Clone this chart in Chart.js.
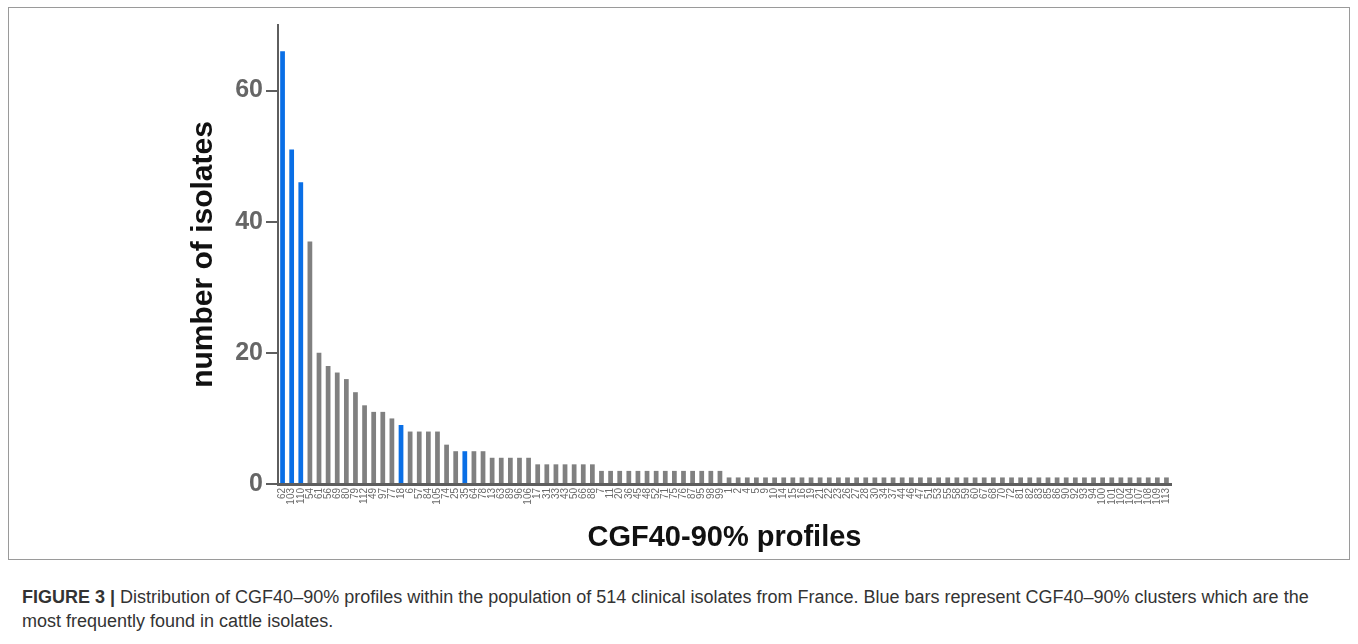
<!DOCTYPE html>
<html>
<head>
<meta charset="utf-8">
<script src="https://cdn.jsdelivr.net/npm/chart.js@4"></script>
<style>
  html, body { margin: 0; padding: 0; background: #fff; }
  body { width: 1358px; height: 644px; position: relative; overflow: hidden; font-family: "Liberation Sans", Arial, sans-serif; }
  #frame { position: absolute; left: 8px; top: 7px; width: 1342px; height: 553px; border: 1px solid #9a9a9a; box-sizing: border-box; }
  #wrap { position: absolute; left: 0; top: 0; width: 1358px; height: 560px; }
  #caption { position: absolute; left: 22px; top: 585px; width: 1330px; font-size: 18px; line-height: 24px; color: #333; white-space: nowrap; }
  #caption b { color: #333; }
</style>
</head>
<body>
<div id="frame"></div>
<div id="wrap"><canvas id="c"></canvas></div>
<div id="caption"><b>FIGURE 3 |</b> Distribution of CGF40–90% profiles within the population of 514 clinical isolates from France. Blue bars represent CGF40–90% clusters which are the<br>most frequently found in cattle isolates.</div>
<script>
// CGF40-90% profile identifiers (x categories)
const profiles = ['62','103','110','54','61','56','69','80','79','112','49','97','77','18','6','57','84','105','74','25','35','64','78',
  '13','63','89','96','106',
  '17','31','33','43','50','66','88',
  '7','11','20','36','45','48','52','71','75','76','87','95','98','99',
  '1','2','4','5','9','10','14','15','16','19','21','22','23','26','27','28','30','34','37','44','46','47','51','53','55','58','59','60',
  '67','68','70','72','81','82','83','85','86','90','92','93','94','100','101','102','104','107','108','109','113'];

// number of isolates per profile
const isolates = [66,51,46,37,20,18,17,16,14,12,11,11,10,9,8,8,8,8,6,5,5,5,5,
  4,4,4,4,4,
  3,3,3,3,3,3,3,
  2,2,2,2,2,2,2,2,2,2,2,2,2,2,
  1,1,1,1,1,1,1,1,1,1,1,1,1,1,1,1,1,1,1,1,1,1,1,1,1,1,1,
  1,1,1,1,1,1,1,1,1,1,1,1,1,1,1,1,1,1,1,1,1,1];

// profiles most frequently found in cattle isolates (blue bars)
const cattleProfiles = ['62','103','110','18','35'];

const yTicks = [0, 20, 40, 60];

const blue = '#0a6fe6';
const grey = '#808080';
const axisCol = '#5e5e5e';

new Chart(document.getElementById('c'), {
  type: 'bar',
  data: {
    labels: profiles,
    datasets: [{
      data: isolates,
      backgroundColor: profiles.map(p => cattleProfiles.includes(p) ? blue : grey),
      barPercentage: 0.52,
      categoryPercentage: 1.0,
      borderWidth: 0
    }]
  },
  options: {
    responsive: true,
    maintainAspectRatio: false,
    animation: false,
    devicePixelRatio: 1,
    layout: { padding: { top: 25, right: 187, bottom: 0, left: 0 } },
    plugins: { legend: { display: false }, tooltip: { enabled: false } },
    scales: {
      x: {
        offset: true,
        grid: { display: false, drawTicks: false },
        border: { display: true, color: axisCol, width: 3 },
        ticks: {
          autoSkip: false, minRotation: 90, maxRotation: 90, padding: 4,
          color: '#6a6a6a',
          font: { family: 'Liberation Sans', size: 10 }
        },
        title: {
          display: true, text: 'CGF40-90% profiles', color: '#111',
          font: { family: 'Liberation Sans', size: 29, weight: 'bold' },
          padding: { top: 0, bottom: 5 }
        },
        afterFit: s => { s.height = 76; }
      },
      y: {
        min: 0, max: 70,
        afterBuildTicks: s => { s.ticks = yTicks.map(v => ({ value: v })); },
        grid: { display: true, drawOnChartArea: false, drawTicks: true, tickLength: 12, color: axisCol, lineWidth: 2 },
        border: { display: true, color: axisCol, width: 2 },
        ticks: {
          padding: 3, color: '#666',
          font: { family: 'Liberation Sans', size: 25, weight: 'bold' }
        },
        title: {
          display: true, text: 'number of isolates', color: '#111',
          font: { family: 'Liberation Sans', size: 30, weight: 'bold' },
          padding: { top: 186, bottom: 0 }
        },
        afterFit: s => { s.width = 278; }
      }
    }
  }
});
</script>
</body>
</html>
